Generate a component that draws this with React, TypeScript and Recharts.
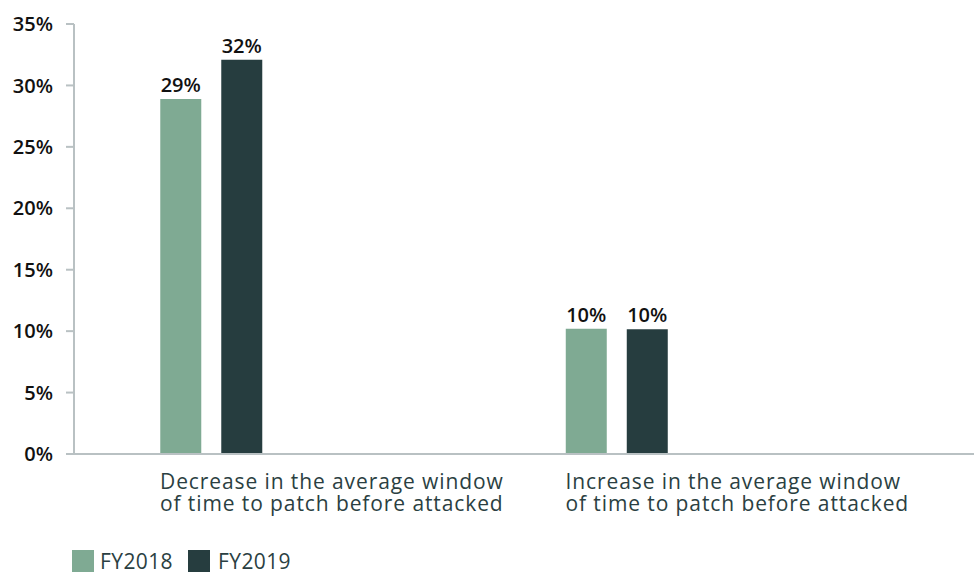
import React from "react";
import { BarChart, Bar, XAxis, YAxis, LabelList } from "recharts";

const CATEGORIES = [
  ["Decrease in the average window", "of time to patch before attacked"],
  ["Increase in the average window", "of time to patch before attacked"]
];
const FY2018 = [28.9, 10.2];
const FY2019 = [32.1, 10.15];
const Y_TICKS = [0, 5, 10, 15, 20, 25, 30, 35];

const GREEN = "#7faa93";
const DARK = "#263d3f";
const TEXT = "#2b3f42";
const AXIS = "#b9c1c3";
const FONT = "'Open Sans', sans-serif";

const data = CATEGORIES.map((c, i) => ({
  x: i,
  fy2018: FY2018[i],
  fy2019: FY2019[i]
}));

const CategoryTick = (props: any) => {
  const { x, y, payload } = props;
  const lines = CATEGORIES[payload.value] || [];
  return (
    <text
      x={x - 51}
      y={y}
      fill={TEXT}
      fontSize={21}
      letterSpacing={0.9}
      fontFamily={FONT}
      textAnchor="start"
    >
      {lines.map((l, i) => (
        <tspan key={i} x={x - 51} dy={i === 0 ? 27 : 22}>
          {l}
        </tspan>
      ))}
    </text>
  );
};

const labelStyle = { fill: "#111", fontSize: 20, fontWeight: 600, fontFamily: FONT };

const App: React.FC = () => {
  return (
    <div style={{ position: "absolute", left: 0, top: 0, width: 974, height: 573, fontFamily: FONT }}>
      <BarChart
        width={974}
        height={573}
        data={data}
        margin={{ top: 24, right: 0, bottom: 0, left: 0 }}
        barGap={20}
        barSize={41}
      >
        <XAxis
          dataKey="x"
          type="number"
          domain={[-0.3379, 1.8816]}
          ticks={[0, 1]}
          tick={<CategoryTick />}
          tickLine={false}
          axisLine={{ stroke: AXIS, strokeWidth: 2 }}
          height={119}
          allowDataOverflow
        />
        <YAxis
          domain={[0, 35]}
          ticks={Y_TICKS}
          tickFormatter={(v: number) => `${v}%`}
          width={74}
          tickSize={8}
          tickMargin={13}
          tickLine={{ stroke: AXIS, strokeWidth: 2 }}
          axisLine={{ stroke: AXIS, strokeWidth: 2 }}
          tick={labelStyle}
        />
        <Bar dataKey="fy2018" name="FY2018" fill={GREEN} isAnimationActive={false}>
          <LabelList
            dataKey="fy2018"
            position="top"
            offset={7}
            formatter={(v: any) => `${Math.round(v)}%`}
            style={labelStyle}
          />
        </Bar>
        <Bar dataKey="fy2019" name="FY2019" fill={DARK} isAnimationActive={false}>
          <LabelList
            dataKey="fy2019"
            position="top"
            offset={7}
            formatter={(v: any) => `${Math.round(v)}%`}
            style={labelStyle}
          />
        </Bar>
      </BarChart>
      <div
        style={{
          position: "absolute",
          left: 72,
          top: 550,
          height: 22,
          display: "flex",
          alignItems: "center",
          fontSize: 21,
          letterSpacing: 0.4,
          color: TEXT,
          lineHeight: "20px"
        }}
      >
        <span style={{ width: 22, height: 22, background: GREEN, display: "inline-block" }} />
        <span style={{ marginLeft: 6, marginRight: 15 }}>FY2018</span>
        <span style={{ width: 22, height: 22, background: DARK, display: "inline-block" }} />
        <span style={{ marginLeft: 8 }}>FY2019</span>
      </div>
    </div>
  );
};

export default App;
